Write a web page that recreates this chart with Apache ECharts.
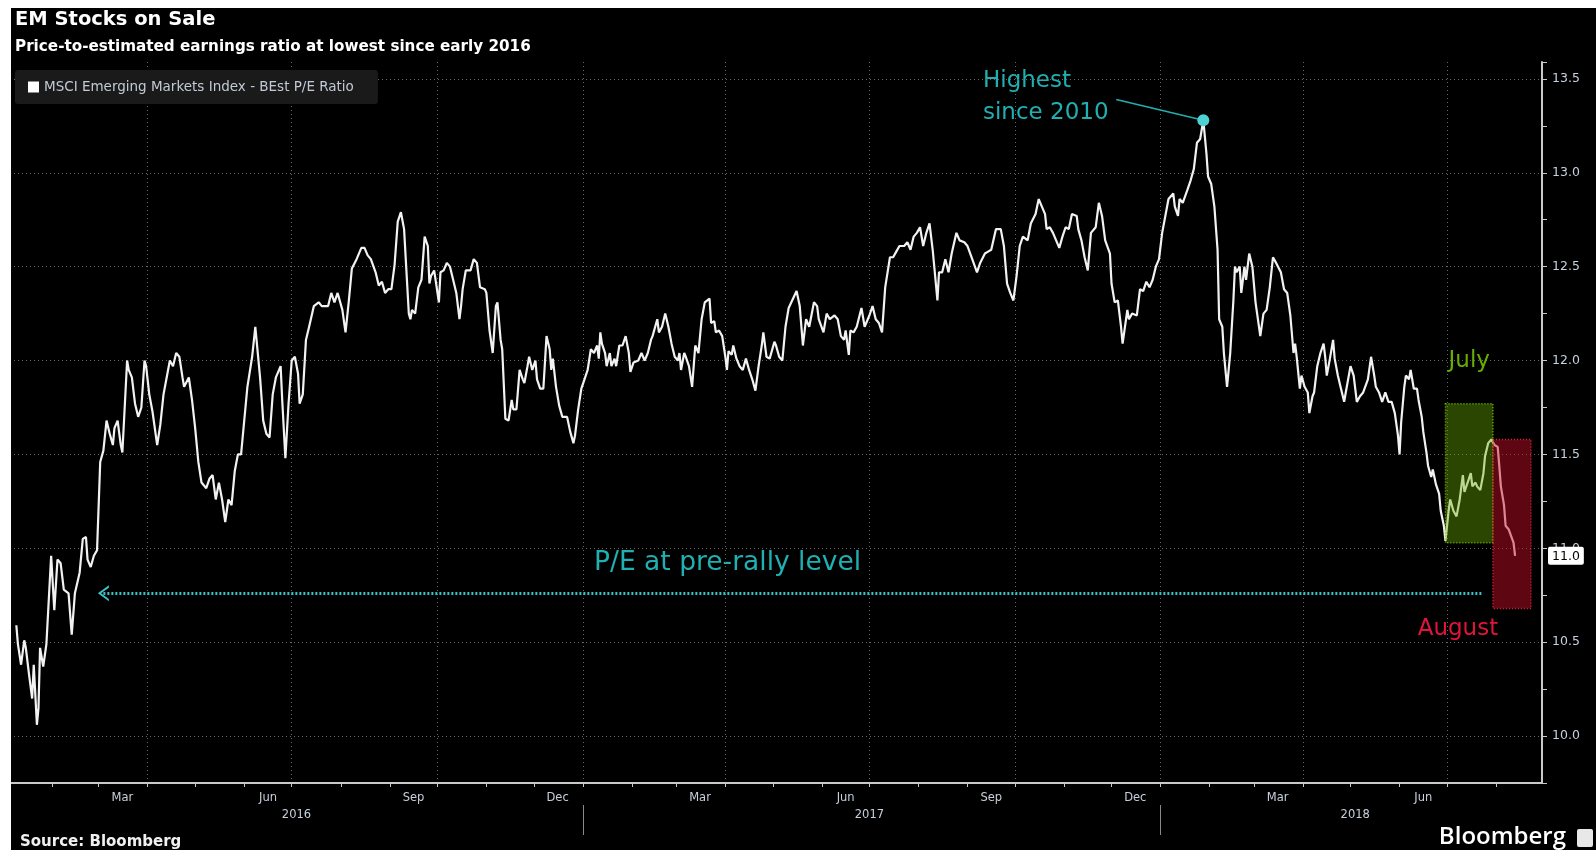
<!DOCTYPE html>
<html>
<head>
<meta charset="utf-8">
<title>EM Stocks on Sale</title>
<script src="https://cdn.jsdelivr.net/npm/echarts@6/dist/echarts.min.js"></script>
<style>
  html, body { margin: 0; padding: 0; background: #000; }
  #chart { width: 1596px; height: 850px; }
</style>
</head>
<body>
<div id="chart"></div>
<script>
// MSCI Emerging Markets Index, BEst (blended forward) P/E ratio
const dates = [
  '2016-01-09','2016-01-10','2016-01-12','2016-01-14','2016-01-15','2016-01-17','2016-01-19','2016-01-20','2016-01-22','2016-01-23',
  '2016-01-24','2016-01-26','2016-01-28','2016-01-31','2016-02-02','2016-02-04','2016-02-06','2016-02-08','2016-02-11','2016-02-13',
  '2016-02-15','2016-02-18','2016-02-20','2016-02-22','2016-02-23','2016-02-25','2016-02-27','2016-02-29','2016-03-02','2016-03-04',
  '2016-03-06','2016-03-08','2016-03-10','2016-03-11','2016-03-13','2016-03-15','2016-03-16','2016-03-19','2016-03-20','2016-03-22',
  '2016-03-24','2016-03-26','2016-03-28','2016-03-30','2016-03-31','2016-04-02','2016-04-04','2016-04-07','2016-04-09','2016-04-11',
  '2016-04-13','2016-04-15','2016-04-17','2016-04-19','2016-04-21','2016-04-23','2016-04-24','2016-04-27','2016-04-29','2016-05-01',
  '2016-05-03','2016-05-05','2016-05-08','2016-05-10','2016-05-12','2016-05-14','2016-05-16','2016-05-18','2016-05-20','2016-05-22',
  '2016-05-24','2016-05-26','2016-05-28','2016-05-30','2016-06-01','2016-06-03','2016-06-06','2016-06-08','2016-06-09','2016-06-11',
  '2016-06-13','2016-06-15','2016-06-17','2016-06-19','2016-06-21','2016-06-24','2016-06-25','2016-06-27','2016-06-29','2016-07-01',
  '2016-07-03','2016-07-05','2016-07-06','2016-07-08','2016-07-10','2016-07-12','2016-07-15','2016-07-18','2016-07-20','2016-07-22',
  '2016-07-24','2016-07-26','2016-07-28','2016-07-30','2016-08-02','2016-08-04','2016-08-06','2016-08-08','2016-08-11','2016-08-14',
  '2016-08-16','2016-08-18','2016-08-20','2016-08-23','2016-08-25','2016-08-27','2016-08-29','2016-08-31','2016-09-02','2016-09-04',
  '2016-09-06','2016-09-08','2016-09-10','2016-09-13','2016-09-14','2016-09-15','2016-09-17','2016-09-19','2016-09-21','2016-09-23',
  '2016-09-25','2016-09-26','2016-09-27','2016-09-29','2016-10-02','2016-10-03','2016-10-05','2016-10-07','2016-10-09','2016-10-11',
  '2016-10-13','2016-10-15','2016-10-16','2016-10-17','2016-10-19','2016-10-22','2016-10-24','2016-10-26','2016-10-28','2016-10-31',
  '2016-11-01','2016-11-03','2016-11-05','2016-11-07','2016-11-08','2016-11-10','2016-11-11','2016-11-13','2016-11-15','2016-11-17',
  '2016-11-18','2016-11-20','2016-11-22','2016-11-24','2016-11-25','2016-11-27','2016-11-28','2016-11-30','2016-12-02','2016-12-03',
  '2016-12-05','2016-12-07','2016-12-09','2016-12-11','2016-12-12','2016-12-13','2016-12-15','2016-12-17','2016-12-19','2016-12-22',
  '2016-12-24','2016-12-26','2016-12-27','2016-12-29','2016-12-31',
  '2017-01-02','2017-01-04','2017-01-06','2017-01-08','2017-01-10','2017-01-11','2017-01-12','2017-01-13','2017-01-15','2017-01-16',
  '2017-01-18','2017-01-19','2017-01-21','2017-01-22','2017-01-24','2017-01-26','2017-01-28','2017-01-30','2017-01-31','2017-02-02',
  '2017-02-05','2017-02-07','2017-02-09','2017-02-11','2017-02-13','2017-02-14','2017-02-17','2017-02-18','2017-02-20','2017-02-22',
  '2017-02-24','2017-02-26','2017-02-28','2017-03-02','2017-03-03','2017-03-04','2017-03-06','2017-03-07','2017-03-09','2017-03-11',
  '2017-03-12','2017-03-13','2017-03-15','2017-03-17','2017-03-19','2017-03-20','2017-03-22','2017-03-23','2017-03-25','2017-03-26',
  '2017-03-28','2017-03-30','2017-04-01','2017-04-02','2017-04-03','2017-04-05','2017-04-06','2017-04-08','2017-04-10','2017-04-12',
  '2017-04-14','2017-04-16','2017-04-18','2017-04-20','2017-04-22','2017-04-24','2017-04-25','2017-04-27','2017-04-29','2017-05-02',
  '2017-05-03','2017-05-05','2017-05-07','2017-05-09','2017-05-11','2017-05-16','2017-05-18','2017-05-20','2017-05-22','2017-05-24',
  '2017-05-27','2017-05-29','2017-05-30','2017-06-02','2017-06-04','2017-06-06','2017-06-09','2017-06-11','2017-06-13','2017-06-15',
  '2017-06-16','2017-06-18','2017-06-19','2017-06-21','2017-06-23','2017-06-26','2017-06-28','2017-06-30','2017-07-01','2017-07-03',
  '2017-07-05','2017-07-07','2017-07-09','2017-07-11','2017-07-14','2017-07-16','2017-07-18','2017-07-20','2017-07-23','2017-07-25',
  '2017-07-27','2017-07-29','2017-07-31','2017-08-02','2017-08-04','2017-08-06','2017-08-08','2017-08-10','2017-08-13','2017-08-14',
  '2017-08-16','2017-08-18','2017-08-20','2017-08-22','2017-08-25','2017-08-27','2017-08-30','2017-09-01','2017-09-04','2017-09-07',
  '2017-09-09','2017-09-12','2017-09-14','2017-09-16','2017-09-19','2017-09-22','2017-09-24','2017-09-26','2017-09-28','2017-09-30',
  '2017-10-02','2017-10-04','2017-10-06','2017-10-09','2017-10-11','2017-10-14','2017-10-16','2017-10-18','2017-10-20','2017-10-21',
  '2017-10-23','2017-10-25','2017-10-27','2017-10-29','2017-10-31','2017-11-02','2017-11-04','2017-11-06','2017-11-09','2017-11-10',
  '2017-11-12','2017-11-14','2017-11-16','2017-11-18','2017-11-21','2017-11-23','2017-11-25','2017-11-27','2017-11-30','2017-12-01',
  '2017-12-03','2017-12-05','2017-12-07','2017-12-08','2017-12-11','2017-12-12','2017-12-14','2017-12-17','2017-12-19','2017-12-21',
  '2017-12-23','2017-12-25','2017-12-27','2017-12-29','2017-12-31',
  '2018-01-02','2018-01-04','2018-01-06','2018-01-09','2018-01-10','2018-01-12','2018-01-13','2018-01-15','2018-01-18','2018-01-20',
  '2018-01-22','2018-01-24','2018-01-26','2018-01-28','2018-01-30','2018-01-31','2018-02-02','2018-02-04','2018-02-06','2018-02-07',
  '2018-02-09','2018-02-10','2018-02-12','2018-02-14','2018-02-16','2018-02-17','2018-02-18','2018-02-20','2018-02-21','2018-02-23',
  '2018-02-24','2018-02-26','2018-02-28','2018-03-02','2018-03-03','2018-03-05','2018-03-07','2018-03-09','2018-03-11','2018-03-13',
  '2018-03-15','2018-03-18','2018-03-20','2018-03-22','2018-03-24','2018-03-26','2018-03-27','2018-03-28','2018-03-30','2018-03-31',
  '2018-04-02','2018-04-04','2018-04-05','2018-04-07','2018-04-08','2018-04-10','2018-04-12','2018-04-14','2018-04-15','2018-04-16',
  '2018-04-18','2018-04-20','2018-04-21','2018-04-23','2018-04-25','2018-04-27','2018-04-28','2018-05-01','2018-05-03','2018-05-05',
  '2018-05-07','2018-05-09','2018-05-12','2018-05-14','2018-05-16','2018-05-17','2018-05-19','2018-05-21','2018-05-23','2018-05-25',
  '2018-05-27','2018-05-29','2018-05-31','2018-06-01','2018-06-02','2018-06-04','2018-06-05','2018-06-07','2018-06-08','2018-06-10',
  '2018-06-12','2018-06-13','2018-06-15','2018-06-16','2018-06-18','2018-06-19','2018-06-21','2018-06-22','2018-06-24','2018-06-26',
  '2018-06-27','2018-06-29','2018-06-30','2018-07-02','2018-07-03','2018-07-05','2018-07-07','2018-07-09','2018-07-11','2018-07-12',
  '2018-07-14','2018-07-16','2018-07-17','2018-07-19','2018-07-20','2018-07-22','2018-07-24','2018-07-25','2018-07-27','2018-07-29',
  '2018-07-30','2018-07-31','2018-08-02','2018-08-03','2018-08-04','2018-08-06','2018-08-07','2018-08-09','2018-08-10','2018-08-12',
  '2018-08-13'
];
const peRatio = [
  10.59,10.49,10.38,10.51,10.47,10.33,10.20,10.38,10.06,10.15,
  10.47,10.37,10.49,10.96,10.67,10.94,10.92,10.78,10.76,10.54,
  10.76,10.87,11.05,11.06,10.94,10.90,10.96,10.99,11.46,11.52,
  11.68,11.61,11.55,11.64,11.68,11.55,11.51,12.00,11.95,11.91,
  11.77,11.70,11.75,12.00,11.97,11.82,11.73,11.55,11.66,11.82,
  11.91,12.00,11.97,12.04,12.02,11.91,11.86,11.91,11.79,11.64,
  11.46,11.35,11.32,11.37,11.39,11.26,11.35,11.26,11.14,11.26,
  11.23,11.41,11.50,11.50,11.68,11.86,12.02,12.18,12.09,11.91,
  11.68,11.61,11.59,11.82,11.91,11.97,11.79,11.48,11.77,12.00,
  12.02,11.93,11.77,11.82,12.11,12.18,12.29,12.31,12.29,12.29,
  12.29,12.36,12.31,12.36,12.27,12.15,12.31,12.49,12.54,12.60,
  12.60,12.56,12.54,12.47,12.40,12.42,12.36,12.38,12.38,12.51,
  12.74,12.79,12.70,12.25,12.22,12.27,12.25,12.39,12.43,12.66,
  12.61,12.41,12.45,12.48,12.31,12.47,12.48,12.52,12.50,12.43,
  12.36,12.22,12.29,12.38,12.48,12.48,12.54,12.52,12.39,12.38,
  12.36,12.16,12.04,12.29,12.31,12.11,12.06,11.69,11.68,11.79,
  11.74,11.74,11.95,11.90,11.88,11.97,12.02,11.95,12.00,11.90,
  11.85,11.85,12.13,12.06,11.95,12.01,11.86,11.76,11.70,11.70,
  11.62,11.56,11.60,11.74,11.85,
  11.90,11.95,12.06,12.04,12.08,12.01,12.15,12.09,12.04,11.97,
  12.04,11.97,12.01,11.97,12.08,12.08,12.13,12.04,11.94,11.99,
  12.00,12.04,12.00,12.04,12.11,12.13,12.22,12.15,12.18,12.25,
  12.18,12.09,12.02,12.00,12.04,11.95,12.04,12.02,11.97,11.86,
  11.97,12.08,12.04,12.22,12.31,12.32,12.33,12.20,12.21,12.15,
  12.16,12.13,12.02,11.95,12.05,12.03,12.08,12.01,11.97,11.95,
  12.01,11.95,11.90,11.84,11.97,12.08,12.15,12.02,12.01,12.10,
  12.08,12.02,12.00,12.18,12.28,12.37,12.29,12.08,12.22,12.18,
  12.31,12.29,12.22,12.15,12.25,12.22,12.24,12.22,12.13,12.11,
  12.16,12.03,12.16,12.15,12.18,12.28,12.18,12.22,12.24,12.29,
  12.22,12.20,12.15,12.39,12.55,12.55,12.58,12.61,12.61,12.63,
  12.59,12.66,12.68,12.71,12.61,12.68,12.73,12.59,12.32,12.47,
  12.47,12.54,12.47,12.57,12.68,12.64,12.63,12.61,12.54,12.47,
  12.52,12.57,12.58,12.59,12.70,12.70,12.61,12.41,12.36,12.32,
  12.45,12.61,12.66,12.64,12.73,12.78,12.86,12.82,12.78,12.70,
  12.71,12.68,12.64,12.60,12.66,12.71,12.70,12.78,12.77,12.70,
  12.64,12.55,12.48,12.68,12.71,12.84,12.77,12.64,12.57,12.41,
  12.31,12.32,12.18,12.09,12.27,12.22,12.25,12.24,12.38,12.37,
  12.42,12.39,12.43,12.50,12.54,
  12.68,12.77,12.86,12.89,12.82,12.77,12.86,12.84,12.91,12.96,
  13.02,13.16,13.18,13.28,13.10,12.98,12.94,12.82,12.59,12.22,
  12.18,12.04,11.86,12.04,12.32,12.50,12.47,12.50,12.36,12.50,
  12.43,12.57,12.50,12.31,12.25,12.13,12.25,12.27,12.39,12.55,
  12.52,12.47,12.38,12.36,12.24,12.04,12.09,12.02,11.85,11.92,
  11.86,11.83,11.72,11.81,11.83,11.97,12.04,12.09,12.02,11.92,
  12.01,12.11,12.01,11.92,11.85,11.78,11.83,11.97,11.92,11.78,
  11.81,11.83,11.90,12.02,11.92,11.86,11.83,11.78,11.83,11.78,
  11.78,11.72,11.60,11.50,11.67,11.86,11.92,11.90,11.95,11.85,
  11.85,11.79,11.70,11.62,11.51,11.44,11.38,11.42,11.34,11.29,
  11.20,11.12,11.04,11.20,11.26,11.20,11.17,11.26,11.39,11.30,
  11.35,11.40,11.33,11.35,11.33,11.31,11.40,11.49,11.56,11.58,
  11.58,11.55,11.54,11.44,11.33,11.23,11.12,11.10,11.11,11.03,
  10.96
];

// Calendar span of the horizontal axis
const axisStart = '2016-01-05';
const axisEnd = '2018-08-30';

// Axis furniture
const monthNames = ['Jan','Feb','Mar','Apr','May','Jun','Jul','Aug','Sep','Oct','Nov','Dec'];
const monthLabelDays = ['2016-03-16','2016-06-16','2016-09-16','2016-12-16','2017-03-16','2017-06-16',
                        '2017-09-16','2017-12-16','2018-03-16','2018-06-16'];
const quarterStarts = ['2016-04-01','2016-07-01','2016-10-01','2017-01-01','2017-04-01','2017-07-01',
                       '2017-10-01','2018-01-01','2018-04-01','2018-07-01'];
const yearLabelDays = ['2016-07-04','2017-07-01','2018-05-04'];
const yearLabelTexts = ['2016','2017','2018'];
const yearBreaks = ['2017-01-01','2018-01-01'];

// Highlighted periods: [from, to, low, high]
const julyRange = ['2018-06-30','2018-07-30', 11.03, 11.77];
const augustRange = ['2018-07-30','2018-08-23', 10.68, 11.58];

// Pre-rally reference level and its arrow span
const preRallyLevel = 10.76;
const preRallySpan = ['2016-03-04','2018-07-24'];

// Start of the leader line to the record high
const highestLeaderStart = ['2017-12-04', 13.39];

// Build the day-by-day category list for the x axis
const axisDays = [];
{
  const [y0, m0, d0] = axisStart.split('-').map(Number);
  const [y1, m1, d1] = axisEnd.split('-').map(Number);
  const end = Date.UTC(y1, m1 - 1, d1);
  for (let t = Date.UTC(y0, m0 - 1, d0); t <= end; t += 86400000) {
    axisDays.push(new Date(t).toISOString().slice(0, 10));
  }
}

const seriesData = dates.map((d, i) => [d, peRatio[i]]);
let peakIdx = 0;
peRatio.forEach((v, i) => { if (v > peRatio[peakIdx]) peakIdx = i; });
const lastValue = peRatio[peRatio.length - 1];

const gridColor = '#676767';
const axisColor = '#c9c9c9';
const labelColor = '#c6d0dc';
const teal = '#20b0b2';
const sans = '"DejaVu Sans", sans-serif';

const chart = echarts.init(document.getElementById('chart'), null, { renderer: 'canvas' });

chart.setOption({
  backgroundColor: '#000',
  animation: false,
  title: [
    {
      text: 'EM Stocks on Sale',
      subtext: 'Price-to-estimated earnings ratio at lowest since early 2016',
      left: 10, top: 5, itemGap: 10,
      textStyle: { color: '#fff', fontFamily: sans, fontWeight: 'bold', fontSize: 19.5 },
      subtextStyle: { color: '#fff', fontFamily: sans, fontWeight: 'bold', fontSize: 15.2 }
    },
    {
      text: 'Source: Bloomberg',
      left: 15, top: 830,
      textStyle: { color: '#f0f0f0', fontFamily: sans, fontWeight: 'bold', fontSize: 15 }
    }
  ],
  legend: {
    data: ['MSCI Emerging Markets Index - BEst P/E Ratio'],
    left: 15, top: 70,
    icon: 'rect', itemWidth: 11, itemHeight: 11, itemGap: 5,
    padding: [10, 24, 10, 13],
    backgroundColor: '#1a1a1a', borderRadius: 3,
    textStyle: { color: '#c2cad6', fontFamily: sans, fontSize: 13.5 }
  },
  grid: { left: 10, right: 54, top: 62, bottom: 67, outerBoundsMode: 'none' },
  xAxis: [
    {
      type: 'category', data: axisDays, boundaryGap: false,
      axisLine: { lineStyle: { color: axisColor, width: 2 } },
      axisTick: { interval: (i, v) => v.slice(8) === '01', length: 4, lineStyle: { color: axisColor } },
      axisLabel: {
        interval: (i, v) => monthLabelDays.includes(v),
        formatter: v => monthNames[Number(v.slice(5, 7)) - 1],
        color: labelColor, fontFamily: sans, fontSize: 11.5, margin: 9
      },
      splitLine: {
        show: true, interval: (i, v) => quarterStarts.includes(v),
        lineStyle: { color: gridColor, width: 1, type: [1, 3] }
      }
    },
    {
      type: 'category', data: axisDays, boundaryGap: false, position: 'bottom', offset: 22,
      axisLine: { show: false },
      axisTick: { show: true, interval: (i, v) => yearBreaks.includes(v), length: 30, lineStyle: { color: '#8a8a8a' } },
      axisLabel: {
        interval: (i, v) => yearLabelDays.includes(v),
        formatter: v => yearLabelTexts[yearLabelDays.indexOf(v)],
        color: labelColor, fontFamily: sans, fontSize: 11.5, margin: 4
      },
      splitLine: { show: false }
    }
  ],
  yAxis: {
    type: 'value', position: 'right', min: 9.75, max: 13.59, interval: 0.25,
    axisLine: { show: true, lineStyle: { color: axisColor, width: 2 } },
    axisTick: { show: true, length: 5, lineStyle: { color: axisColor } },
    axisLabel: {
      color: labelColor, fontFamily: sans, fontSize: 12.5, margin: 10,
      formatter: v => Math.abs(v * 2 - Math.round(v * 2)) < 1e-6 ? v.toFixed(1) : ''
    },
    splitLine: { show: true, lineStyle: { color: ['rgba(0,0,0,0)', gridColor], width: 1, type: [1, 3] } },
    axisPointer: {
      show: true, value: lastValue, status: 'show', triggerTooltip: false, triggerOn: 'none',
      lineStyle: { opacity: 0 },
      label: {
        show: true, backgroundColor: '#fff', color: '#000', fontFamily: sans, fontSize: 12.5,
        padding: [3, 4, 2, 4], borderRadius: 2, margin: 6,
        formatter: p => Number(p.value).toFixed(1)
      }
    }
  },
  series: [
    {
      name: 'MSCI Emerging Markets Index - BEst P/E Ratio',
      type: 'line', data: seriesData, showSymbol: false, symbol: 'none',
      itemStyle: { color: '#fff' },
      lineStyle: { color: '#f2f2f2', width: 2.2 },
      z: 2,
      markArea: {
        z: 3, silent: true,
        data: [
          [
            {
              name: 'July', coord: [julyRange[0], julyRange[3]],
              itemStyle: { color: 'rgba(108,176,0,0.40)', borderColor: '#74c400', borderWidth: 1.5, borderType: [1, 2] },
              label: { show: true, position: 'top', distance: 30, color: '#68ac00', fontFamily: sans, fontSize: 23 }
            },
            { coord: [julyRange[1], julyRange[2]] }
          ],
          [
            {
              name: 'August', coord: [augustRange[0], augustRange[3]],
              itemStyle: { color: 'rgba(200,14,40,0.47)', borderColor: '#e0223e', borderWidth: 1.5, borderType: [1, 2] },
              label: { show: true, position: 'bottom', distance: 8, offset: [-54, 0], color: '#e0143c', fontFamily: sans, fontSize: 23 }
            },
            { coord: [augustRange[1], augustRange[2]] }
          ]
        ]
      },
      markLine: {
        silent: true, symbol: ['none', 'none'], label: { show: false },
        data: [
          [
            {
              coord: [preRallySpan[0], preRallyLevel],
              symbol: 'path://M0,14 L10,0 L20,14 L17,14 L10,4 L3,14 Z', symbolSize: [16, 11],
              lineStyle: { color: '#3dc2c8', width: 3, type: [2, 2] }
            },
            { coord: [preRallySpan[1], preRallyLevel], symbol: 'none' }
          ],
          [
            { coord: highestLeaderStart, symbol: 'none', lineStyle: { color: teal, width: 1.5, type: 'solid' } },
            { coord: [dates[peakIdx], peRatio[peakIdx]], symbol: 'none' }
          ]
        ]
      },
      markPoint: {
        silent: true,
        data: [{ type: 'max', symbol: 'circle', symbolSize: 12, itemStyle: { color: '#4fd0d2' }, label: { show: false } }]
      }
    }
  ],
  graphic: [
    { type: 'rect', left: 0, top: 0, shape: { width: 1596, height: 8 }, style: { fill: '#fff' }, silent: true, z: 100 },
    { type: 'rect', left: 0, top: 0, shape: { width: 11, height: 850 }, style: { fill: '#fff' }, silent: true, z: 100 },
    { type: 'text', left: 983, top: 70, style: { text: 'Highest', fill: teal, font: '23px "DejaVu Sans", sans-serif' } },
    { type: 'text', left: 983, top: 102, style: { text: 'since 2010', fill: teal, font: '23px "DejaVu Sans", sans-serif' } },
    { type: 'text', left: 594, top: 550, style: { text: 'P/E at pre-rally level', fill: teal, font: '26.5px "DejaVu Sans", sans-serif' } },
    { type: 'text', right: 30, top: 825, style: { text: 'Bloomberg', fill: '#fff', font: '600 24px "Open Sans", sans-serif' } },
    { type: 'rect', left: 1577, top: 829, shape: { width: 16, height: 18, r: 2 }, style: { fill: '#e8e8e8' }, silent: true }
  ]
});
</script>
</body>
</html>
